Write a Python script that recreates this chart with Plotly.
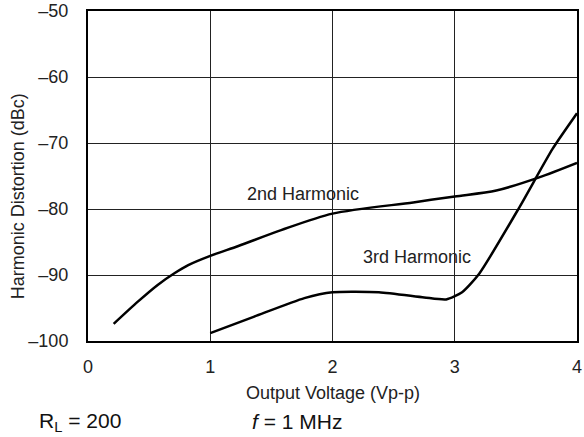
import plotly.graph_objects as go

x2 = [0.21, 0.41, 0.57, 0.71, 0.82, 1.0, 1.23, 1.58, 2.0, 2.66, 3.0, 3.34, 3.69, 4.0]
y2 = [-97.4, -94.0, -91.5, -89.7, -88.5, -87.1, -85.6, -83.2, -80.7, -79.0, -78.1, -77.2, -75.2, -73.0]

x3 = [1.0, 1.36, 1.77, 2.0, 2.38, 2.75, 2.93, 3.06, 3.2, 3.53, 3.8, 4.0]
y3 = [-98.8, -96.3, -93.5, -92.6, -92.6, -93.4, -93.7, -92.6, -89.8, -79.7, -70.9, -65.5]

xticks = [0, 1, 2, 3, 4]
yticks = [-100, -90, -80, -70, -60, -50]
ytext = ["\u2013100", "\u201390", "\u201380", "\u201370", "\u201360", "\u201350"]

FAM = "Liberation Sans, Arial, sans-serif"
font = dict(family=FAM, size=18, color="#222")

fig = go.Figure()
fig.add_trace(go.Scatter(x=x2, y=y2, mode="lines", line=dict(color="black", width=2.5, shape="spline", smoothing=0.8), showlegend=False))
fig.add_trace(go.Scatter(x=x3, y=y3, mode="lines", line=dict(color="black", width=2.5, shape="spline", smoothing=0.6), showlegend=False))

fig.update_layout(
    width=584, height=437,
    margin=dict(l=88, r=7, t=11, b=96),
    plot_bgcolor="white", paper_bgcolor="white",
    font=font,
    xaxis=dict(range=[0, 4], tickvals=xticks, ticks="", showgrid=True, gridcolor="#222", gridwidth=1,
               showline=True, linecolor="black", linewidth=2, mirror=True, zeroline=False,
               tickfont=font, automargin=False, ticklabelstandoff=8),
    yaxis=dict(range=[-100, -50], tickvals=yticks, ticktext=ytext, ticks="", showgrid=True, gridcolor="#222", gridwidth=1,
               showline=True, linecolor="black", linewidth=2, mirror=True, zeroline=False,
               tickfont=font, automargin=False, ticklabelstandoff=14),
)
fig.add_annotation(xref="paper", yref="paper", x=0.5, y=-0.158, xanchor="center", yanchor="middle",
                   text="Output Voltage (Vp-p)", showarrow=False, font=font)
fig.add_annotation(xref="paper", yref="paper", x=-0.143, y=0.439, xanchor="center", yanchor="middle",
                   textangle=-90, text="Harmonic Distortion (dBc)", showarrow=False, font=font)
fig.add_annotation(x=1.76, y=-77.8, text="2nd Harmonic", showarrow=False, font=font)
fig.add_annotation(x=2.69, y=-87.3, text="3rd Harmonic", showarrow=False, font=font)
bfont = dict(family=FAM, size=21, color="#111")
fig.add_annotation(xref="paper", yref="paper", x=-0.104, y=-0.245, xanchor="left", yanchor="middle",
                   text="R<sub>L</sub> = 200", showarrow=False, font=bfont)
fig.add_annotation(xref="paper", yref="paper", x=0.331, y=-0.245, xanchor="left", yanchor="middle",
                   text="<i>f</i> = 1 MHz", showarrow=False, font=bfont)
fig.write_html("out.html", config={"displayModeBar": False},
               post_script="document.body.style.margin='0';document.body.style.overflow='hidden';")
